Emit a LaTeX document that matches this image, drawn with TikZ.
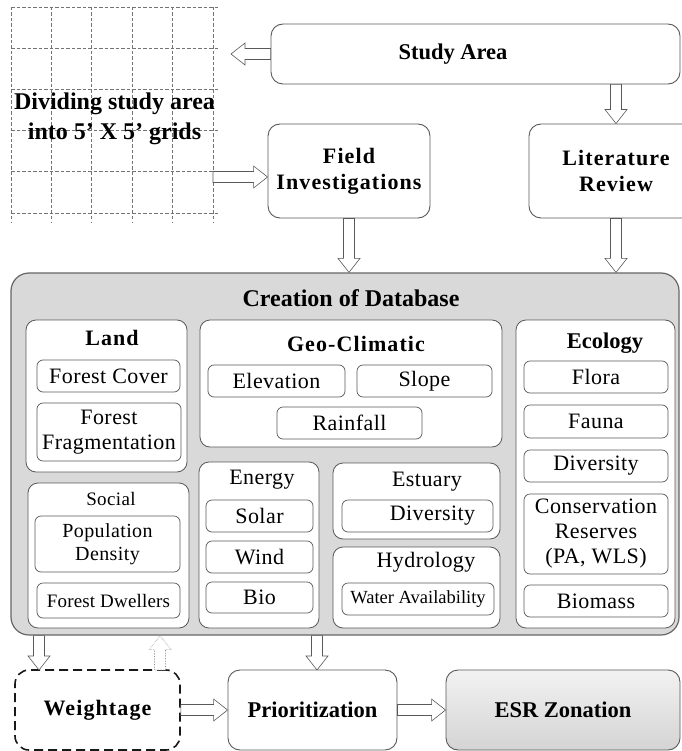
\documentclass[tikz,border=0pt]{standalone}
\usepackage{fontspec}
\setmainfont{Liberation Serif}
\usetikzlibrary{calc}

\tikzset{
  bigbox/.style={draw=black!65, line width=0.9pt, rounded corners=12pt, fill=white, align=center},
  grpbox/.style={draw=black!65, line width=0.8pt, rounded corners=10pt, fill=white, inner sep=0pt},
  itembox/.style={draw=black!65, line width=0.7pt, rounded corners=6pt, fill=white, align=center,
    inner sep=2pt, font=\fontsize{22}{25}\selectfont\addfontfeature{LetterSpace=2}},
  dbbox/.style={draw=black!60, line width=1.2pt, rounded corners=18pt, fill=black!15},
  dashbox/.style={draw=black!90, line width=1.6pt, dash pattern=on 9pt off 5pt, rounded corners=14pt, fill=white},
  esrbox/.style={draw=black!65, line width=0.9pt, rounded corners=12pt, top color=black!5, bottom color=black!17},
  bigbold/.style={font=\fontsize{24}{30}\selectfont\bfseries, align=center},
  boldtxt/.style={font=\fontsize{22.5}{27}\selectfont\bfseries, align=center},
  spaced/.style={font=\fontsize{22}{26}\selectfont\bfseries\addfontfeature{LetterSpace=5}, align=center},
  plaintxt/.style={font=\fontsize{22}{25}\selectfont\addfontfeature{LetterSpace=2}},
  gridline/.style={draw=black!55, line width=0.9pt, dash pattern=on 3.5pt off 2pt},
  hollow/.style={draw=black!65, fill=white, line width=0.6pt,
    to path={let \p1=(\tikztostart), \p2=(\tikztotarget),
      \n1={veclen(\x2-\x1,\y2-\y1)}, \n2={atan2(\y2-\y1,\x2-\x1)} in
      {[shift={(\p1)}, rotate=\n2]
        (0,5.5) -- (\n1-14,5.5) -- (\n1-14,11) -- (\n1,0) -- (\n1-14,-11) -- (\n1-14,-5.5) -- (0,-5.5) -- cycle}}},
}

\begin{document}
\begin{tikzpicture}[x=1pt, y=-1pt]
  \useasboundingbox (0,0) rectangle (681,751);

  % grid of the study area
  \foreach \i in {0,...,5} {
    \draw[gridline] (11+40.4*\i,7) -- (11+40.4*\i,223);
    \draw[gridline] (11,7+41.2*\i) -- (218,7+41.2*\i);
  }
  \node[bigbold, minimum width=207pt, minimum height=216pt, inner sep=0pt] (grid) at (114.5,119) {Dividing study area\\into 5’ X 5’ grids};

  % top row
  \node[bigbox, boldtxt, minimum width=409pt, minimum height=60pt] (study) at (475.5,54) {Study Area\hspace*{45pt}};
  \node[bigbox, spaced, minimum width=162pt, minimum height=94pt] (field) at (349,171) {Field\\Investigations};
  \node[bigbox, spaced, minimum width=174pt, minimum height=94pt] (lit) at (616,171) {Literature\\Review};

  % database
  \node[dbbox, minimum width=668pt, minimum height=362pt] (db) at (345,454) {};
  \node[bigbold] (dbtitle) at (351,298) {Creation of Database};

  % land
  \node[grpbox, minimum width=161pt, minimum height=152pt] (land) at (106.5,396) {};
  \node[spaced] (landtitle) at (112,338) {Land};
  \node[itembox, minimum width=143pt, minimum height=32pt] (cover) at (108.5,376) {Forest Cover};
  \node[itembox, minimum width=144pt, minimum height=58pt] (frag) at (109,432) {Forest\\Fragmentation};

  % geo-climatic
  \node[grpbox, minimum width=302pt, minimum height=127pt] (geo) at (351,383.5) {};
  \node[spaced] (geotitle) at (356,344) {Geo-Climatic};
  \node[itembox, minimum width=137pt, minimum height=32pt] (elev) at (276.5,381) {Elevation};
  \node[itembox, minimum width=135pt, minimum height=32pt] (slope) at (424.5,381) {Slope};
  \node[itembox, minimum width=145pt, minimum height=32pt] (rain) at (349.5,423) {Rainfall};

  % ecology
  \node[grpbox, minimum width=159pt, minimum height=308pt] (eco) at (595.5,474) {};
  \node[boldtxt] (ecotitle) at (605,343) {Ecology};
  \node[itembox, minimum width=144pt, minimum height=32pt] (flora) at (596,377) {Flora};
  \node[itembox, minimum width=144pt, minimum height=33pt] (fauna) at (596,421.5) {Fauna};
  \node[itembox, minimum width=144pt, minimum height=32pt] (ecodiv) at (596,466) {Diversity};
  \node[itembox, minimum width=144pt, minimum height=80pt] (reserve) at (596,534) {Conservation\\Reserves\\(PA, WLS)};
  \node[itembox, minimum width=144pt, minimum height=32pt] (biomass) at (596,601) {Biomass};

  % social
  \node[grpbox, minimum width=161pt, minimum height=145pt] (social) at (108.5,555.5) {};
  \node[font=\fontsize{19}{22}\selectfont\addfontfeature{LetterSpace=2}] (socialtitle) at (111,499) {Social};
  \node[itembox, font=\fontsize{20}{23}\selectfont\addfontfeature{LetterSpace=2}, minimum width=145pt, minimum height=56pt] (popdens) at (107.5,544) {Population\\Density};
  \node[itembox, font=\fontsize{19}{22}\selectfont\addfontfeature{LetterSpace=1}, minimum width=143pt, minimum height=35pt] (dwell) at (108.5,600.5) {Forest Dwellers};

  % energy
  \node[grpbox, minimum width=120pt, minimum height=166pt] (energy) at (259,545) {};
  \node[plaintxt] (energytitle) at (262,480) {Energy};
  \node[itembox, minimum width=107pt, minimum height=32pt] (solar) at (259.5,516) {Solar};
  \node[itembox, minimum width=107pt, minimum height=32pt] (wind) at (259.5,557) {Wind};
  \node[itembox, minimum width=107pt, minimum height=31pt] (bio) at (259.5,597.5) {Bio};

  % estuary and hydrology
  \node[grpbox, minimum width=167pt, minimum height=76pt] (estuary) at (416.5,501) {};
  \node[plaintxt] (estuarytitle) at (427,482) {Estuary};
  \node[itembox, minimum width=151pt, minimum height=32pt] (estdiv) at (417.5,516) {\hspace*{30pt}Diversity};
  \node[grpbox, minimum width=167pt, minimum height=81pt] (hydro) at (416.5,587.5) {};
  \node[plaintxt] (hydrotitle) at (426,562) {Hydrology};
  \node[itembox, font=\fontsize{18.5}{22}\selectfont, minimum width=152pt, minimum height=32pt] (water) at (418,599) {Water Availability};

  % bottom row
  \node[dashbox, spaced, minimum width=165pt, minimum height=80pt] (weight) at (97.5,710) {Weightage};
  \node[bigbox, boldtxt, minimum width=169pt, minimum height=80pt] (prio) at (312.5,710) {Prioritization};
  \node[esrbox, boldtxt, minimum width=234pt, minimum height=80pt] (esr) at (563,710) {ESR Zonation};

  % arrows
  \coordinate (gridtip) at (231,54);
  \coordinate (gridout) at (213,177);
  \coordinate (wdown) at (39,670);
  \coordinate (wup) at (160,670);
  \coordinate (pdown) at (317,670);

  \path[hollow] (study.west) to (gridtip);
  \path[hollow] (gridout) to (gridout -| field.west);
  \path[hollow] (study.south -| lit.north) to (lit.north);
  \path[hollow] (field.south) to (field.south |- db.north);
  \path[hollow] (lit.south) to (lit.south |- db.north);
  \path[hollow] (wdown |- db.south) to (wdown);
  \path[hollow, draw=black!45, densely dotted] (wup) to (wup |- db.south);
  \path[hollow] (pdown |- db.south) to (pdown);
  \path[hollow] (weight.east) to (prio.west);
  \path[hollow] (prio.east) to (esr.west);
\end{tikzpicture}
\end{document}
